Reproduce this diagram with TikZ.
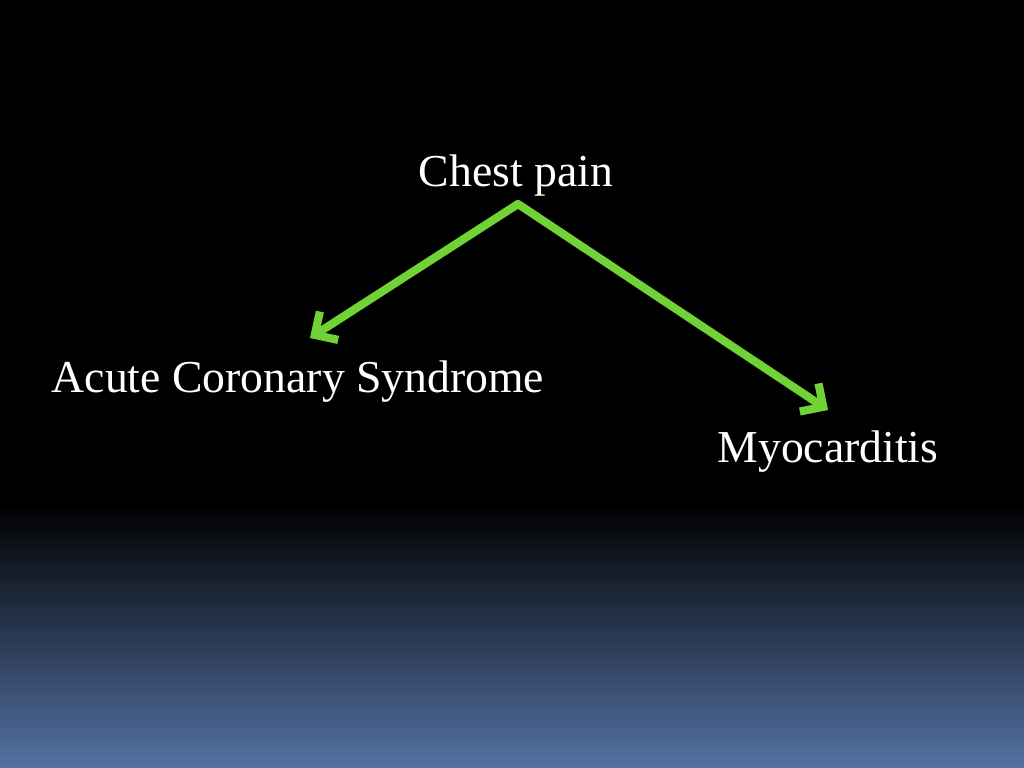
\documentclass[tikz,border=0pt]{standalone}
\usepackage{fontspec}
\setmainfont{Liberation Serif}
\usetikzlibrary{arrows.meta}
\definecolor{grn}{RGB}{112,210,52}
\definecolor{blu}{RGB}{84,114,164}
\tikzset{lbl/.style={text=white,font=\fontsize{32.5}{38}\selectfont,inner sep=0pt},
 arr/.style={draw=grn,line width=5.8pt,line cap=round,line join=round,-{Straight Barb[length=12pt,width=24pt,line width=5.8pt]}}}
\begin{document}
\begin{tikzpicture}[x=0.025cm,y=-0.025cm]
\fill[black] (0,0) rectangle (1024,768);
\shade[top color=black,bottom color=blu] (0,505) rectangle (1024,768);
\useasboundingbox (0,0) rectangle (1024,768);
\node[lbl] (cp) at (516,176) {Chest pain};
\node[lbl] (acs) at (298,382) {Acute Coronary Syndrome};
\node[lbl] (myo) at (828,452) {Myocarditis};
\coordinate (apex) at (518,204);
\coordinate (lt) at (310,338);
\coordinate (rt) at (828,410);
\draw[arr] (apex) -- (lt);
\draw[arr] (apex) -- (rt);
\end{tikzpicture}
\end{document}
